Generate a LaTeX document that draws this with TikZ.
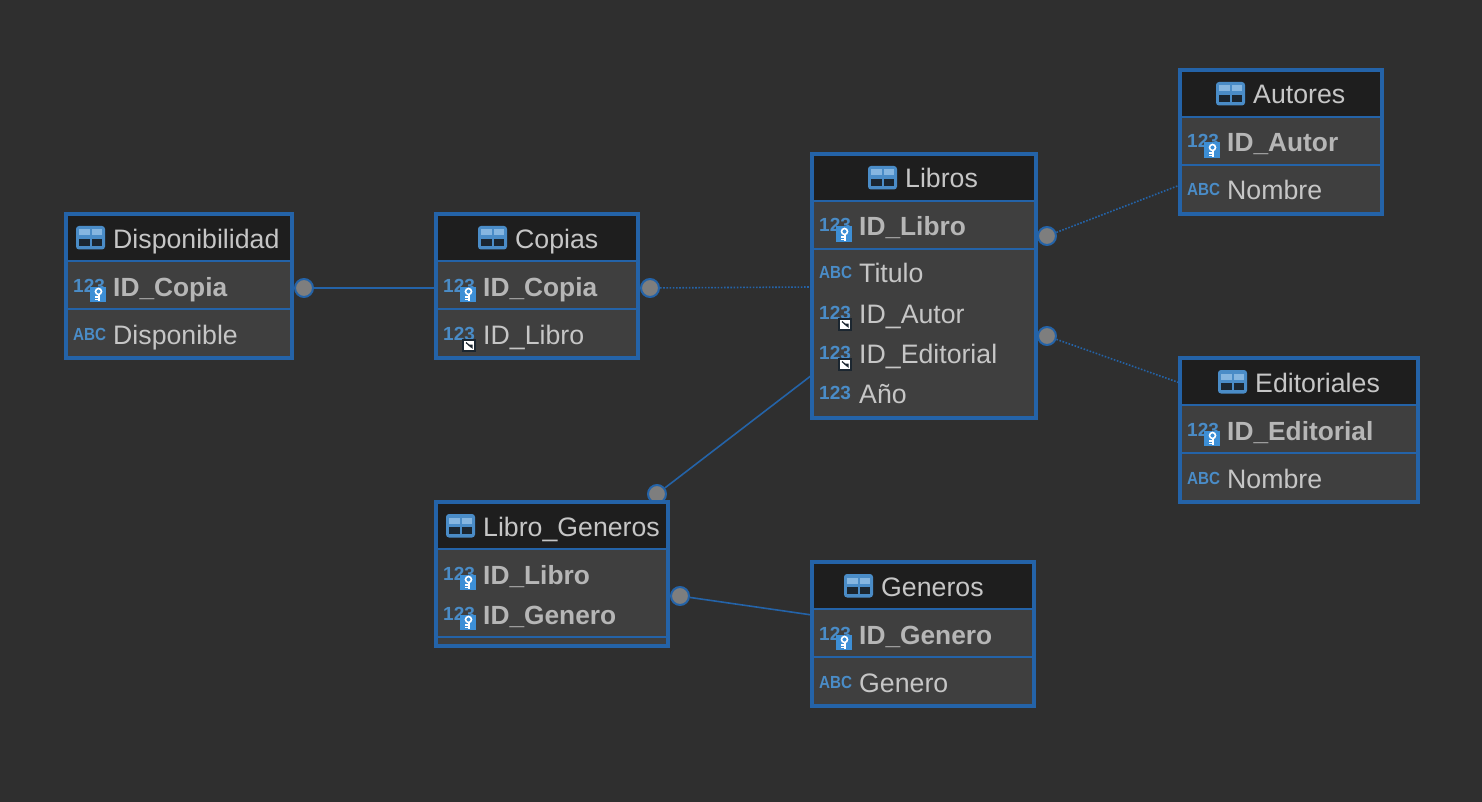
\documentclass[tikz,border=0pt]{standalone}
\usepackage{fontspec}
\setmainfont{Liberation Sans}
\definecolor{bgc}{HTML}{2F2F2F}
\definecolor{bodyc}{HTML}{3F3F3F}
\definecolor{headc}{HTML}{1E1E1E}
\definecolor{edgec}{HTML}{2463A8}
\definecolor{txtc}{HTML}{C6C6C6}
\definecolor{iconc}{HTML}{4A8CC7}
\definecolor{keyc}{HTML}{3D8FD6}
\definecolor{lightc}{HTML}{86B6E0}
\definecolor{darkc}{HTML}{1B2630}
\definecolor{dotc}{HTML}{7E7E7E}
\tikzset{
  x=1pt,y=-1pt,
  frameN/.style={draw=edgec,line width=4pt,inner sep=0pt,outer sep=0pt,fill=none},
  rowline/.style={draw=edgec,line width=2pt},
  titleN/.style={anchor=base west,inner sep=0pt,text=txtc,font=\fontsize{26.7}{27}\selectfont},
  plainN/.style={anchor=base west,inner sep=0pt,text=txtc,font=\fontsize{26.7}{27}\selectfont},
  boldN/.style={anchor=base west,inner sep=0pt,text=txtc!92!black,font=\fontsize{26.3}{27}\selectfont\bfseries},
  numN/.style={anchor=base west,inner sep=0pt,text=iconc,font=\fontsize{19}{19}\selectfont\bfseries},
  abcN/.style={anchor=base west,inner sep=0pt,text=iconc,xscale=.87,font=\fontsize{17.5}{17.5}\selectfont\bfseries},
  dotN/.style={circle,draw=edgec,fill=dotc,line width=2pt,minimum size=18pt,inner sep=0pt},
  solidL/.style={draw=edgec,line width=1.6pt},
  dotL/.style={draw=edgec,line width=1.6pt,dash pattern=on 1.6pt off 1.6pt},
}
% id, x0, y0, x1, y1, title x, title, row line ys (header first)
\newcommand{\ertable}[8]{%
  \fill[bodyc] (#2,#3) rectangle (#4,#5);
  \fill[headc] (#2,#3) rectangle (#4,#3+49);
  \foreach \yy in {#8} {\draw[rowline] (#2,\yy) -- (#4,\yy);}
  \pgfmathsetmacro{\boxw}{#4-#2-4}
  \pgfmathsetmacro{\boxh}{#5-#3-4}
  \node[frameN,minimum width=\boxw pt,minimum height=\boxh pt] (#1) at ({(#2+#4)/2},{(#3+#5)/2}) {};
  % table glyph
  \fill[iconc,rounded corners=3pt] (#6-37,#3+14) rectangle (#6-8,#3+37.5);
  \fill[lightc] (#6-34,#3+17.5) rectangle (#6-23.5,#3+23.5);
  \fill[lightc] (#6-21.5,#3+17.5) rectangle (#6-11,#3+23.5);
  \fill[darkc] (#6-34,#3+27) rectangle (#6-23.5,#3+34);
  \fill[darkc] (#6-21.5,#3+27) rectangle (#6-11,#3+34);
  \node[titleN] (#1-title) at (#6,#3+36) {#7};
}
% name, text x, baseline, text
\newcommand{\keyrow}[4]{%
  \node[numN] (#1-type) at (#2-40,#3-4) {123};
  \fill[keyc] (#2-23,#3-9.5) rectangle (#2-7,#3+6);
  \draw[white,line width=1.6pt] (#2-14.5,#3-4.5) circle (3pt);
  \draw[white,line width=2pt] (#2-14.5,#3-1.5) -- (#2-14.5,#3+5);
  \draw[white,line width=1.4pt] (#2-14.5,#3+1) -- (#2-18,#3+1) (#2-14.5,#3+3.7) -- (#2-18,#3+3.7);
  \node[boldN] (#1) at (#2,#3) {#4};
}
\newcommand{\linkrow}[4]{%
  \node[numN] (#1-type) at (#2-40,#3-4) {123};
  \fill[darkc] (#2-21,#3-5.5) rectangle (#2-7,#3+7.5);
  \fill[white] (#2-19,#3-3.5) rectangle (#2-9,#3+5.5);
  \fill[darkc] (#2-15,#3+.5) -- (#2-10.5,#3+.5) -- (#2-10.5,#3+5) -- cycle;
  \draw[darkc,line width=1.2pt] (#2-17,#3-1.5) -- (#2-12,#3+3);
  \node[plainN] (#1) at (#2,#3) {#4};
}
\newcommand{\numrow}[4]{%
  \node[numN] (#1-type) at (#2-40,#3-4) {123};
  \node[plainN] (#1) at (#2,#3) {#4};
}
\newcommand{\abcrow}[4]{%
  \node[abcN] (#1-type) at (#2-40,#3-4) {ABC};
  \node[plainN] (#1) at (#2,#3) {#4};
}
\begin{document}
\begin{tikzpicture}
\useasboundingbox (0,0) rectangle (1482,802);
\fill[bgc] (0,0) rectangle (1482,802);

% connector nodes
\node[dotN] (d1) at (304,288) {};
\node[dotN] (d2) at (650,288) {};
\node[dotN] (d3) at (1047,236) {};
\node[dotN] (d4) at (1047,336) {};
\node[dotN] (d5) at (657,494) {};
\node[dotN] (d6) at (680,596) {};
\coordinate (e1) at (436,288);
\coordinate (e2) at (812,287);
\coordinate (e3) at (1180,185);
\coordinate (e4) at (1180,383);
\coordinate (e5) at (812,375);
\coordinate (e6) at (812,615);
\draw[solidL] (d1) -- (e1);
\draw[dotL] (d2) -- (e2);
\draw[dotL] (d3) -- (e3);
\draw[dotL] (d4) -- (e4);
\draw[solidL] (d5) -- (e5);
\draw[solidL] (d6) -- (e6);

\ertable{disp}{64}{212}{294}{360}{113}{Disponibilidad}{261,309}
\keyrow{disp1}{113}{296}{ID\_Copia}
\abcrow{disp2}{113}{344}{Disponible}

\ertable{cop}{434}{212}{640}{360}{515}{Copias}{261,309}
\keyrow{cop1}{483}{296}{ID\_Copia}
\linkrow{cop2}{483}{344}{ID\_Libro}

\ertable{lib}{810}{152}{1038}{420}{905}{Libros}{201,249}
\keyrow{lib1}{859}{236}{ID\_Libro}
\abcrow{lib2}{859}{283}{Titulo}
\linkrow{lib3}{859}{323}{ID\_Autor}
\linkrow{lib4}{859}{363}{ID\_Editorial}
\numrow{lib5}{859}{403}{Año}

\ertable{aut}{1178}{68}{1384}{216}{1253}{Autores}{117,165}
\keyrow{aut1}{1227}{152}{ID\_Autor}
\abcrow{aut2}{1227}{200}{Nombre}

\ertable{edi}{1178}{356}{1420}{504}{1255}{Editoriales}{405,453}
\keyrow{edi1}{1227}{440}{ID\_Editorial}
\abcrow{edi2}{1227}{488}{Nombre}

\ertable{lg}{434}{500}{670}{648}{483}{Libro\_Generos}{549,637}
\keyrow{lg1}{483}{584}{ID\_Libro}
\keyrow{lg2}{483}{624}{ID\_Genero}

\ertable{gen}{810}{560}{1036}{708}{881}{Generos}{609,657}
\keyrow{gen1}{859}{644}{ID\_Genero}
\abcrow{gen2}{859}{692}{Genero}
\end{tikzpicture}
\end{document}
